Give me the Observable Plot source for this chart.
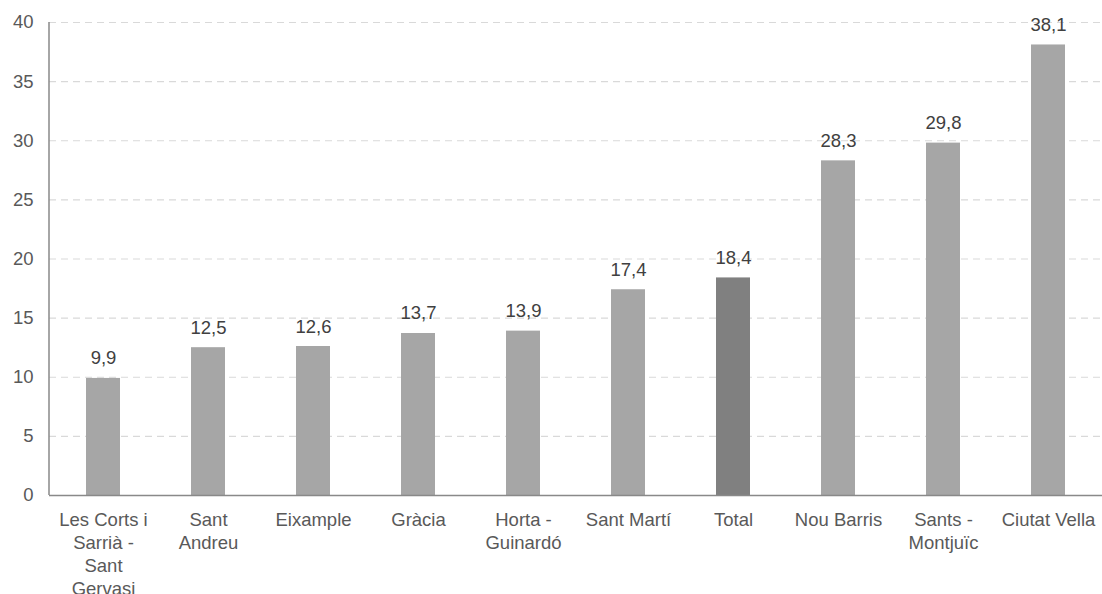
<!DOCTYPE html>
<html>
<head>
<meta charset="utf-8">
<script src="https://cdn.jsdelivr.net/npm/d3@7"></script>
<script src="https://cdn.jsdelivr.net/npm/@observablehq/plot@0.6"></script>
<style>
  html, body { margin: 0; padding: 0; background: #fff; }
  #chart { width: 1102px; height: 594px; }
</style>
</head>
<body>
<div id="chart"></div>
<script>
const districts = ["Les Corts i Sarrià - Sant Gervasi", "Sant Andreu", "Eixample", "Gràcia", "Horta - Guinardó", "Sant Martí", "Total", "Nou Barris", "Sants - Montjuïc", "Ciutat Vella"];
const tickLabels = ["Les Corts i\nSarrià -\nSant\nGervasi", "Sant\nAndreu", "Eixample", "Gràcia", "Horta -\nGuinardó", "Sant Martí", "Total", "Nou Barris", "Sants -\nMontjuïc", "Ciutat Vella"];
const values = [9.9, 12.5, 12.6, 13.7, 13.9, 17.4, 18.4, 28.3, 29.8, 38.1];
const yTicks = [0, 5, 10, 15, 20, 25, 30, 35, 40];

const data = districts.map((d, i) => ({district: d, value: values[i], total: d === "Total"}));
const labelOf = new Map(districts.map((d, i) => [d, tickLabels[i]]));
const fmt = v => v.toFixed(1).replace(".", ",");
const FONT = "Liberation Sans, Arial, sans-serif";

const chart = Plot.plot({
  width: 1102,
  height: 594,
  marginTop: 22,
  marginBottom: 99,
  marginLeft: 49,
  marginRight: 0,
  style: {fontFamily: FONT, fontSize: "18.5px", color: "#595959", background: "#fff"},
  x: {domain: districts, paddingInner: 0.68, paddingOuter: 0.34, label: null},
  y: {domain: [0, 40], label: null},
  marks: [
    Plot.gridY(yTicks.filter(t => t > 0), {stroke: "#d9d9d9", strokeOpacity: 1, strokeDasharray: "7,5", strokeWidth: 1.2}),
    Plot.barY(data, {x: "district", y: "value", fill: d => d.total ? "#808080" : "#a6a6a6"}),
    Plot.ruleY([0], {stroke: "#898989", strokeWidth: 1.5}),
    Plot.axisY({ticks: yTicks, tickSize: 0, tickPadding: 16, fontSize: 18.5, fill: "#595959", tickFormat: d => String(d)}),
    Plot.axisX({tickSize: 0, tickPadding: 14, fontSize: 18.5, fill: "#595959", lineHeight: 1.24, tickFormat: d => labelOf.get(d)}),
    Plot.text(data, {x: "district", y: "value", text: d => fmt(d.value), lineAnchor: "bottom", dy: -14, fontSize: 18.5, fill: "#404040"})
  ]
});

// y axis line
d3.select(chart).append("line")
  .attr("x1", 49).attr("x2", 49)
  .attr("y1", 22).attr("y2", 495)
  .attr("stroke", "#898989").attr("stroke-width", 1.5);
document.getElementById("chart").appendChild(chart);
</script>
</body>
</html>
